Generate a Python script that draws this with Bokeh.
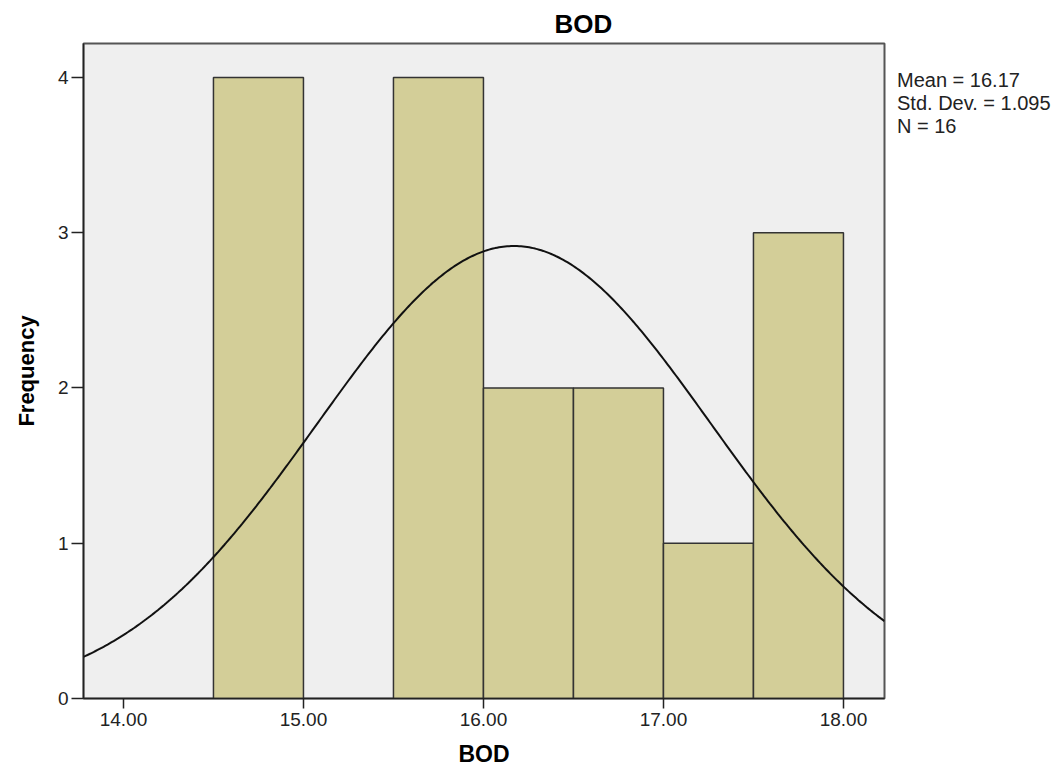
import numpy as np
from bokeh.plotting import figure
from bokeh.models import Range1d, FixedTicker, NumeralTickFormatter, ColumnDataSource, Legend, LegendItem
from bokeh.embed import file_html
from bokeh.resources import INLINE

# Data
bin_starts = [14.5, 15.0, 15.5, 16.0, 16.5, 17.0, 17.5]
frequencies = [4, 0, 4, 2, 2, 1, 3]
bin_width = 0.5
mean_bod = 16.17
sd_bod = 1.095
n_bod = 16
x_ticks = [14.0, 15.0, 16.0, 17.0, 18.0]
y_ticks = [0, 1, 2, 3, 4]
stats_lines = ["Mean = 16.17", "Std. Dev. = 1.095", "N = 16"]

FONT = "Liberation Sans"

left = [s for s, f in zip(bin_starts, frequencies) if f > 0]
right = [s + bin_width for s, f in zip(bin_starts, frequencies) if f > 0]
top = [f for f in frequencies if f > 0]
bars = ColumnDataSource(dict(left=left, right=right, top=top, bottom=[0] * len(top)))

x_lo, x_hi = 13.778, 18.228
p = figure(frame_width=801, frame_height=655, output_backend="svg", toolbar_location=None,
           x_range=Range1d(x_lo, x_hi), y_range=Range1d(0, 4.219),
           min_border_left=83, min_border_right=176, min_border_top=43, min_border_bottom=73)

p.background_fill_color = "#efefef"
p.border_fill_color = "white"
p.outline_line_color = "#555555"
p.outline_line_width = 2
p.xgrid.visible = False
p.ygrid.visible = False

p.quad(left="left", right="right", top="top", bottom="bottom", source=bars,
       fill_color="#d3ce98", line_color="#333333", line_width=1.5)

xs = np.linspace(x_lo, x_hi, 400)
ys = n_bod * bin_width * np.exp(-0.5 * ((xs - mean_bod) / sd_bod) ** 2) / (sd_bod * np.sqrt(2 * np.pi))
p.line(xs, ys, line_color="#111111", line_width=2)

p.title.text = "BOD"
p.title.align = "left"
p.title.offset = 471
p.title.text_font = FONT
p.title.text_font_size = "26px"
p.title.text_font_style = "bold"
p.title.text_color = "black"

xa = p.xaxis[0]
xa.ticker = FixedTicker(ticks=x_ticks)
xa.formatter = NumeralTickFormatter(format="0.00")
xa.axis_label = "BOD"
ya = p.yaxis[0]
ya.ticker = FixedTicker(ticks=y_ticks)
ya.axis_label = "Frequency"

for ax in (xa, ya):
    ax.axis_line_color = "#222222"
    ax.axis_line_width = 1.5
    ax.major_tick_line_color = "#222222"
    ax.major_tick_line_width = 1.5
    ax.major_tick_in = 0
    ax.minor_tick_line_color = None
    ax.major_label_text_font = FONT
    ax.major_label_text_font_size = "19px"
    ax.major_label_text_color = "#222222"
    ax.axis_label_text_font = FONT
    ax.axis_label_text_font_style = "bold"
    ax.axis_label_text_color = "black"

xa.major_tick_out = 10
xa.major_label_standoff = 4
xa.axis_label_text_font_size = "23px"
xa.axis_label_standoff = 12
ya.major_tick_out = 12
ya.major_label_standoff = 3
ya.axis_label_text_font_size = "22px"
ya.axis_label_standoff = 16

# Statistics box (legend without glyphs, outside the frame on the right)
dummy = p.scatter(x=[], y=[], size=0, fill_alpha=0, line_alpha=0)
items = [LegendItem(label="\n".join(stats_lines), renderers=[dummy])]
stats = Legend(items=items, location=(13, 560), margin=0, padding=0, spacing=0,
               glyph_width=0, glyph_height=17, label_height=17, label_standoff=0,
               label_text_font=FONT, label_text_font_size="20px", label_text_color="#222222",
               label_text_line_height=0.85,
               border_line_color=None, background_fill_alpha=0)
p.add_layout(stats, "right")

open("out.html", "w").write(file_html(p, INLINE))
